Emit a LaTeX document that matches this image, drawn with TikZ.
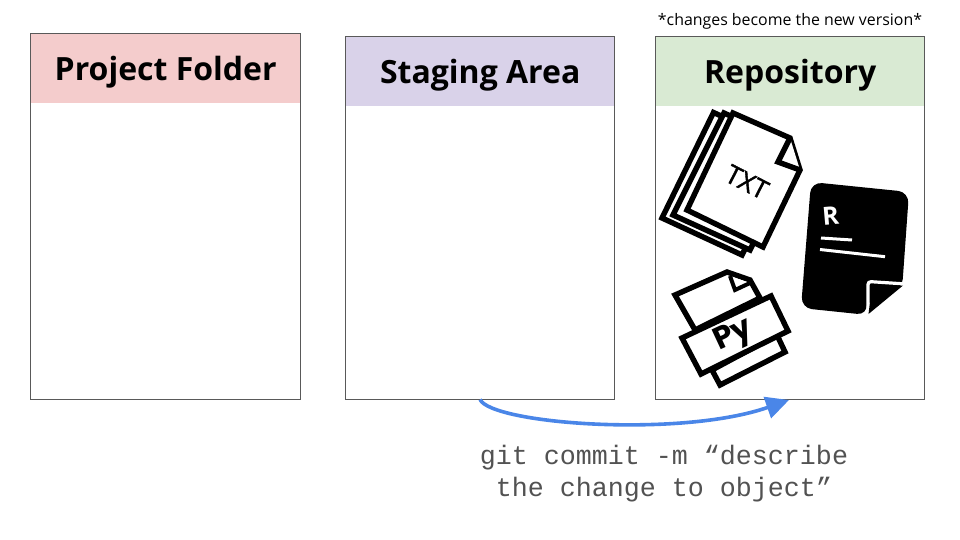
\documentclass[tikz,border=0pt]{standalone}
\usepackage{fontspec}
\setmainfont{Open Sans}
\newfontfamily\monof{Liberation Mono}
\newfontfamily\popf{Poppins}
\usetikzlibrary{arrows.meta}
\definecolor{hred}{HTML}{F4CCCC}
\definecolor{hpur}{HTML}{D9D2E9}
\definecolor{hgrn}{HTML}{D9EAD3}
\definecolor{arrowblue}{HTML}{4A86E8}
\definecolor{edge}{HTML}{595959}
\tikzset{
  panel/.style={draw=edge,line width=0.8pt,anchor=north west,inner sep=0pt,outer sep=0pt},
  header/.style={fill=#1,anchor=north west,inner sep=0pt,minimum height=69pt,text height=30pt,text depth=7pt,font=\fontsize{32}{36}\selectfont\bfseries,text=black},
  icon/.style={draw=black,line width=5.4pt,line join=miter,fill=white},
  git/.style={font=\monof\fontsize{26.67}{32}\selectfont,text=black!68,align=center},
}
\begin{document}
\begin{tikzpicture}[x=1pt,y=-1pt]
\useasboundingbox[fill=white] (0,0) rectangle (960,540);
% headers
\node[header=hred,minimum width=270pt] (projecth) at (30.5,34) {Project Folder};
\node[header=hpur,minimum width=269pt] (stagingh) at (345.5,37) {Staging Area};
\node[header=hgrn,minimum width=269pt] (repoh) at (655.5,37) {Repository};
% panels
\node[panel,minimum width=270.1pt,minimum height=365.2pt] (project) at (30.2,33.9) {};
\node[panel,minimum width=269.1pt,minimum height=362.2pt] (staging) at (345.2,36.9) {};
\node[panel,minimum width=269.1pt,minimum height=362.2pt] (repo) at (655.2,36.9) {};
\node[font=\fontsize{15.9}{18}\selectfont,text=black] (note) at (790,21) {*changes become the new version*};
% TXT icon
\draw[icon] (741,125) -- (713.5,112.5) -- (662,218) -- (742,255) -- (752,235);
\draw[icon] (750,125) -- (724,113) -- (673,215) -- (750,250) -- (760,230);
\draw[icon] (733,113) -- (790,138) -- (800,170) -- (763,247) -- (687,210) -- cycle;
\draw[icon,fill=white] (790,138) -- (778,162) -- (800,170);
\node[rotate=-27,font=\fontsize{26}{28}\selectfont,text=black,draw=none] (txt) at (747,182) {\addfontfeatures{FakeBold=1.5}TXT};
% R icon
\fill[black,rounded corners=11pt] (811,182) -- (909,192) -- (902,290) -- (866,300) -- (868,315) -- (801,308) -- cycle;
\draw[white,line width=3.2pt,rounded corners=3pt] (868,316) -- (868,281.5) -- (906,284);
\fill[black] (872,285.5) -- (903,285.5) -- (868.5,314) -- cycle;
\fill[white] (903,287) -- (910,287) -- (910,320) -- (868,320) -- (868.5,316) -- cycle;
\node[rotate=5,font=\fontsize{25}{26}\selectfont\bfseries,text=white] (rletter) at (830.5,216) {R};
\draw[white,line width=3pt] (821,238) -- (852,240);
\draw[white,line width=3pt] (820,249.5) -- (885,256.7);
% PY icon
\draw[icon] (712,370) -- (720,385) -- (785,352) -- (777,335) -- cycle;
\draw[icon] (695,330) -- (675,295) -- (727,272) -- (750,280) -- (760,298) -- cycle;
\draw[icon,line width=4pt] (730,276) -- (735,290) -- (750,283);
\draw[icon] (682,338) -- (771,296) -- (788,331) -- (701,374) -- cycle;
\node[rotate=25,font=\popf\fontsize{31}{32}\selectfont\bfseries,text=black] (py) at (734,336) {Py};
% arrow
\coordinate (astart) at (480,399.5);
\coordinate (aend) at (789,400);
\draw[arrowblue,line width=3.6pt,-{Triangle[length=23pt,width=22pt]}] (astart) .. controls (492,424) and (680,438) .. (aend);
\node[git] (cmd) at (664,474) {git commit -m “describe\\the change to object”};
\end{tikzpicture}
\end{document}
